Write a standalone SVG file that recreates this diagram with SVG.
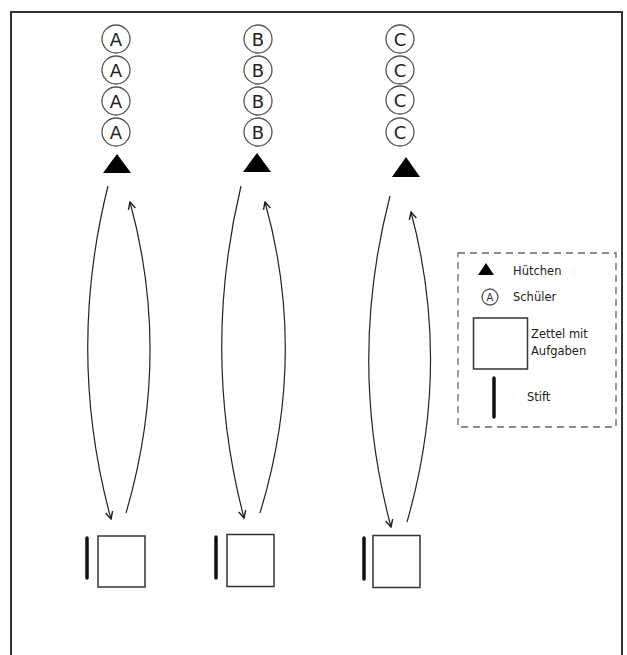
<svg xmlns="http://www.w3.org/2000/svg" width="627" height="655" viewBox="0 0 627 655">
<style>
.stu{fill:#fff;stroke:#555;stroke-width:1.3}
.lt{font-family:"DejaVu Sans",sans-serif;font-size:18px;fill:#222;text-anchor:middle}
.cone{fill:#000}
.sheet{fill:#fff;stroke:#333;stroke-width:1.5}
.pen{stroke:#111;stroke-width:3.5;stroke-linecap:round}
.arr{fill:none;stroke:#222;stroke-width:1.2;marker-end:url(#ah)}
.lg{font-family:"DejaVu Sans",sans-serif;font-size:11.5px;fill:#222}
</style>
<defs>
<marker id="ah" viewBox="0 0 10 10" refX="9" refY="5" markerWidth="9" markerHeight="9" orient="auto" markerUnits="userSpaceOnUse">
<path d="M1,1 L9,5 L1,9" fill="none" stroke="#222" stroke-width="1.6"/>
</marker>
<g id="sA"><circle class="stu" r="14"/><text class="lt" y="6.5">A</text></g>
<g id="sB"><circle class="stu" r="14"/><text class="lt" y="6.5">B</text></g>
<g id="sC"><circle class="stu" r="14"/><text class="lt" y="6.5">C</text></g>
</defs>
<rect x="0" y="0" width="627" height="655" fill="#fff"/>
<rect x="11" y="12" width="611" height="660" fill="none" stroke="#333" stroke-width="2"/>

<g id="columnA">
<use href="#sA" x="116" y="39"/><use href="#sA" x="116" y="70"/><use href="#sA" x="116" y="101"/><use href="#sA" x="116" y="132"/>
<polygon class="cone" points="117,154 103,173 131,173"/>
</g>
<g id="columnB">
<use href="#sB" x="258" y="39"/><use href="#sB" x="258" y="70"/><use href="#sB" x="258" y="101"/><use href="#sB" x="258" y="132"/>
<polygon class="cone" points="257,153 243,172 271,172"/>
</g>
<g id="columnC">
<use href="#sC" x="400" y="39"/><use href="#sC" x="400" y="70"/><use href="#sC" x="400" y="100"/><use href="#sC" x="400" y="132"/>
<polygon class="cone" points="406,157 392,177 420,177"/>
</g>

<g id="stationA">
<line class="pen" x1="87" y1="538" x2="87" y2="578"/>
<rect class="sheet" x="98" y="536" width="47" height="51"/>
</g>
<g id="stationB">
<line class="pen" x1="216" y1="537" x2="216" y2="578"/>
<rect class="sheet" x="227" y="534.5" width="47" height="52"/>
</g>
<g id="stationC">
<line class="pen" x1="364" y1="538" x2="364" y2="579"/>
<rect class="sheet" x="373" y="535.5" width="47" height="52"/>
</g>

<g id="connectors">
<path class="arr" d="M108,186 Q66,354 111,519"/>
<path class="arr" d="M126,513 Q172,356 130,202"/>
<path class="arr" d="M241,186 Q201,354 244,518"/>
<path class="arr" d="M260,513 Q308,356 265,202"/>
<path class="arr" d="M390,196 Q347,362 391,527"/>
<path class="arr" d="M407,522 Q452,366 411,212"/>
</g>

<g id="legend">
<rect x="458" y="253" width="158" height="174" fill="none" stroke="#666" stroke-width="1.3" stroke-dasharray="7,5"/>
<polygon class="cone" points="486,263 478,275 494,275"/>
<text class="lg" x="513" y="275">Hütchen</text>
<circle class="stu" cx="490" cy="297" r="8" stroke-width="1"/>
<text x="490" y="301" font-family="DejaVu Sans,sans-serif" font-size="10" text-anchor="middle" fill="#333">A</text>
<text class="lg" x="513" y="301">Schüler</text>
<rect class="sheet" x="473.5" y="318" width="54" height="51"/>
<text class="lg" x="531" y="338">Zettel mit</text>
<text class="lg" x="531" y="355">Aufgaben</text>
<line class="pen" x1="494" y1="378" x2="494" y2="417"/>
<text class="lg" x="527" y="401">Stift</text>
</g>
</svg>
